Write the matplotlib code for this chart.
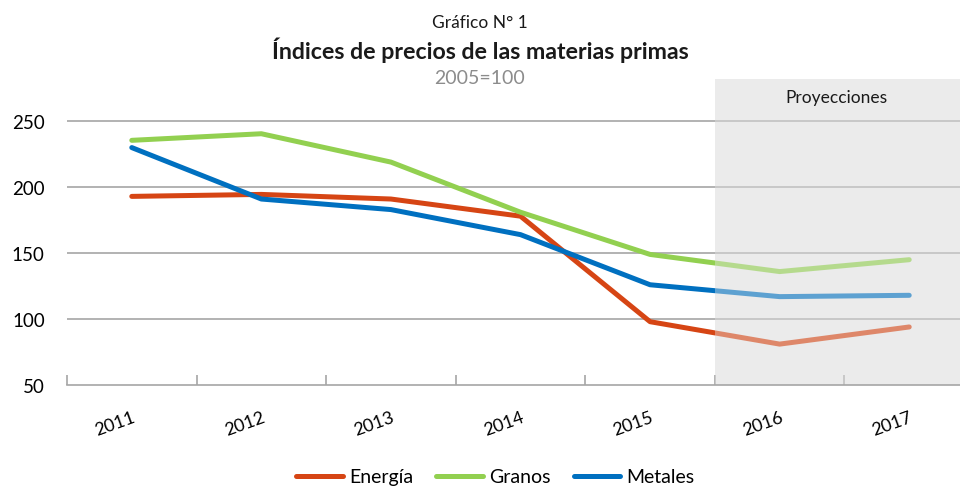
import matplotlib
matplotlib.use("Agg")
import matplotlib.pyplot as plt
from matplotlib.patches import Rectangle
from matplotlib.transforms import ScaledTranslation
import numpy as np

years = ["2011", "2012", "2013", "2014", "2015", "2016", "2017"]
energia = [193, 194.5, 191, 178, 98, 81, 94]
granos = [235.5, 240.5, 219, 181, 149, 136, 145]
metales = [230, 191, 183, 164, 126, 117, 118]
series_names = ["Energía", "Granos", "Metales"]
colors = ["#D64514", "#92D050", "#0070C0"]

plt.rcParams['font.family'] = ['Lato', 'DejaVu Sans']

fig = plt.figure(figsize=(9.6, 4.89), dpi=100)
ax = fig.add_axes([67/960, 1-386/489, (974-67)/960, (386-80)/489])
x = np.arange(len(years))

ax.set_xlim(-0.5, 6.5)
ax.set_ylim(50, 282)

# shaded projection background
ax.add_patch(Rectangle((4.5, 50), 2.0, 232, facecolor="#EBEBEB", edgecolor="none", zorder=0))

for yv in [100, 150, 200, 250]:
    ax.axhline(yv, color="#A6A6A6", lw=1.2, zorder=1)

handles = []
for vals, c, n in zip([energia, granos, metales], colors, series_names):
    h, = ax.plot(x, vals, color=c, lw=3.6, solid_capstyle='round', zorder=3, label=n)
    handles.append(h)

# fade overlay on projection region
ax.add_patch(Rectangle((4.5, 50), 2.0, 232, facecolor="#EBEBEB", edgecolor="none", alpha=0.4, zorder=4))

ax.text(5.44, 268, "Proyecciones", ha="center", va="center", fontsize=12.5, color="#1a1a1a", zorder=5)

for s in ["left", "right", "top"]:
    ax.spines[s].set_visible(False)
ax.spines["bottom"].set_color("#A6A6A6")
ax.spines["bottom"].set_linewidth(1.2)
ax.spines["bottom"].set_zorder(5)

ax.set_xticks(x)
ax.set_xticklabels(years, rotation=20, fontsize=13, ha="right", va="top", rotation_mode="anchor")
offset = ScaledTranslation(-5/72, 0, fig.dpi_scale_trans)
for lbl in ax.get_xticklabels():
    lbl.set_transform(lbl.get_transform() + offset)
ax.set_xticks(np.arange(-0.5, 7.0, 1.0), minor=True)
ax.tick_params(axis="x", which="major", length=0, pad=17)
ax.tick_params(axis="x", which="minor", direction="in", length=7, color="#A6A6A6", width=1.2)
ax.set_yticks([50, 100, 150, 200, 250])
ax.tick_params(axis="y", length=0, labelsize=13.5, pad=16)

fig.text(0.5, 1-23/489, "Gráfico N° 1", ha="center", va="center", fontsize=12.5, color="#1a1a1a")
fig.text(0.5, 1-50/489, "Índices de precios de las materias primas", ha="center", va="center",
         fontsize=16.7, fontweight="bold", color="#1a1a1a")
fig.text(0.5, 1-79/489, "2005=100", ha="center", va="center", fontsize=14, color="#8C8C8C")

fig.legend(handles=handles, labels=series_names, loc="center", bbox_to_anchor=(0.516, 1-478/489),
           ncol=3, frameon=False, fontsize=14, handlelength=2.4, columnspacing=1.2, handletextpad=0.3)

fig.savefig("out.png", dpi=100)
